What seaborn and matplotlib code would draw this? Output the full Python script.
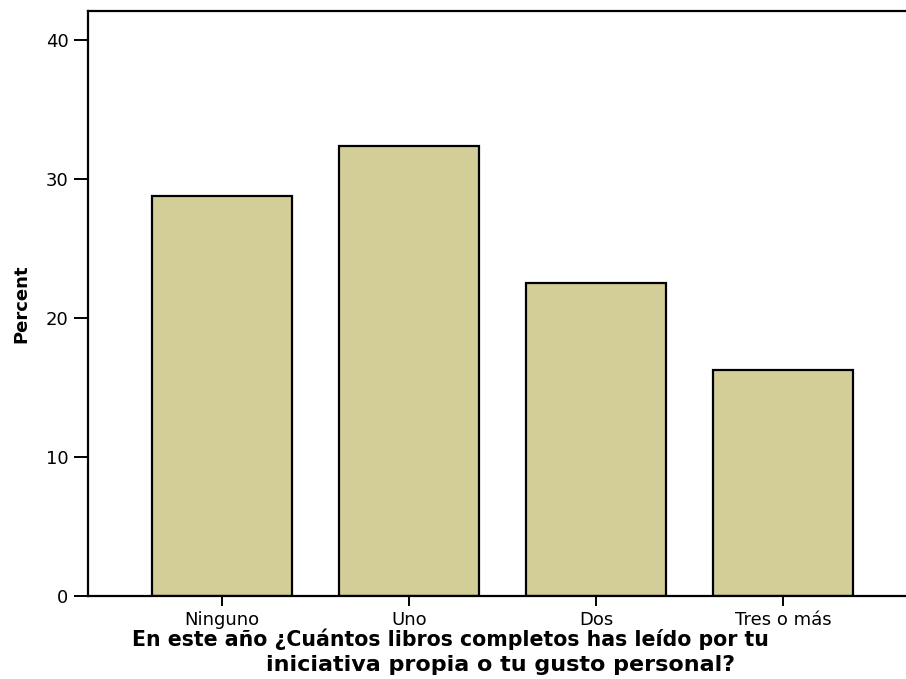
import matplotlib
matplotlib.use("Agg")
import matplotlib.pyplot as plt
import seaborn as sns
import pandas as pd

categories = ["Ninguno", "Uno", "Dos", "Tres o más"]
percent = [28.8, 32.4, 22.5, 16.3]
yticks = [0, 10, 20, 30, 40]
xlabel_line1 = "En este año ¿Cuántos libros completos has leído por tu"
xlabel_line2 = "iniciativa propia o tu gusto personal?"
ylabel = "Percent"

sns.set_theme(style="white")
plt.rcParams["font.family"] = ["DejaVu Sans"]

df = pd.DataFrame({"cat": categories, "pct": percent})

W, H = 906, 679
fig = plt.figure(figsize=(W / 100, H / 100), dpi=100)
ax = fig.add_axes([88 / W, 1 - 596 / H, (917 - 88) / W, (596 - 11) / H])

sns.barplot(data=df, x="cat", y="pct", order=categories, color="#d3ce98",
            saturation=1, edgecolor="black", linewidth=1.6, width=0.75, ax=ax)

ax.set_xlim(-0.717, 3.717)
ax.set_ylim(0, 42.1)
ax.set_yticks(yticks)
ax.set_yticklabels([str(t) for t in yticks])

for side in ["left", "bottom", "top"]:
    ax.spines[side].set_visible(True)
    ax.spines[side].set_color("black")
    ax.spines[side].set_linewidth(1.6)
ax.spines["right"].set_visible(False)

ax.tick_params(axis="y", direction="out", length=10, width=1.4, pad=4,
               labelsize=13, colors="black", left=True)
ax.tick_params(axis="x", direction="out", length=7, width=1.4, pad=4,
               labelsize=13, colors="black", bottom=True)
ax.grid(False)

ax.set_xlabel("")
ax.set_ylabel(ylabel, fontsize=13, fontweight="bold", color="black")
ax.yaxis.set_label_coords((30 - 88) / 829, 0.5)

fig.text(450 / W, 1 - 639 / H, xlabel_line1, ha="center", va="center",
         fontsize=14.8, fontweight="bold", color="black")
fig.text(501 / W, 1 - 665 / H, xlabel_line2, ha="center", va="center",
         fontsize=16, fontweight="bold", color="black")

fig.savefig("out.png", dpi=100, facecolor="white")
